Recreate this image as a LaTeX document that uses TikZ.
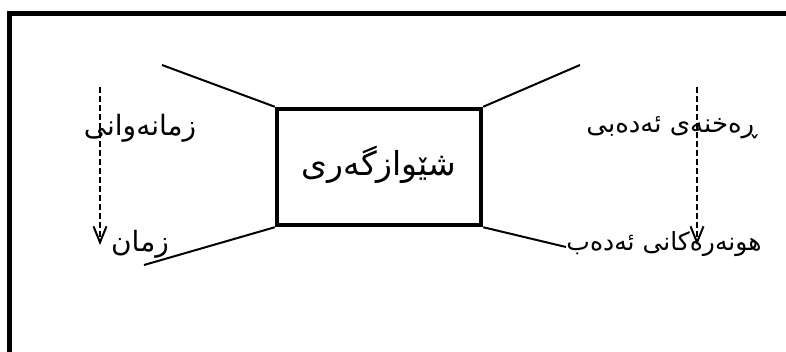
\documentclass[tikz,border=0pt]{standalone}
\usepackage{fontspec}
\newfontfamily\arabicfont[Script=Arabic]{DejaVu Sans}
\TeXXeTstate=1
\usetikzlibrary{arrows.meta}
\tikzset{
  lbl/.style={font=\arabicfont\fontsize{28}{30}\selectfont, inner sep=0pt, anchor=center},
  thinline/.style={line width=2pt},
  dasharrow/.style={line width=2pt, dash pattern=on 6pt off 3pt, -{Straight Barb[length=16pt,width=13pt,line width=2pt]}},
  mainbox/.style={draw, line width=4.5pt, minimum width=204pt, minimum height=116pt, inner sep=0pt}
}
\begin{document}
\begin{tikzpicture}[x=1pt,y=-1pt]
\useasboundingbox (0,0) rectangle (786,352);
\clip (0,0) rectangle (786,352);
\fill[white] (0,0) rectangle (786,352);
\draw[line width=5pt] (9.5,13.5) rectangle (800,355);
\node[mainbox] (box) at (379,167) {};
\node[lbl, font=\arabicfont\fontsize{33}{35}\selectfont] (center) at (379,165) {\beginR شێوازگەری\endR};
\coordinate (lt) at (162,65);
\coordinate (lb) at (144,265);
\coordinate (rt) at (580,65);
\coordinate (rb) at (566,247);
\draw[thinline] (box.north west) -- (lt);
\draw[thinline] (box.south west) -- (lb);
\draw[thinline] (box.north east) -- (rt);
\draw[thinline] (box.south east) -- (rb);
\node[lbl] (t1) at (140,128) {\beginR زمانەوانی\endR};
\node[lbl] (t2) at (140,244) {\beginR زمان\endR};
\node[lbl, font=\arabicfont\fontsize{26}{28}\selectfont] (t3) at (672,128) {\beginR ڕەخنەی ئەدەبی\endR};
\node[lbl, font=\arabicfont\fontsize{25}{27}\selectfont] (t4) at (664,244) {\beginR هونەرەکانی ئەدەب\endR};
\coordinate (a1s) at (100,87);
\coordinate (a1e) at (100,245);
\coordinate (a2s) at (697,87);
\coordinate (a2e) at (697,245);
\draw[dasharrow] (a1s) -- (a1e);
\draw[dasharrow] (a2s) -- (a2e);
\end{tikzpicture}
\end{document}
